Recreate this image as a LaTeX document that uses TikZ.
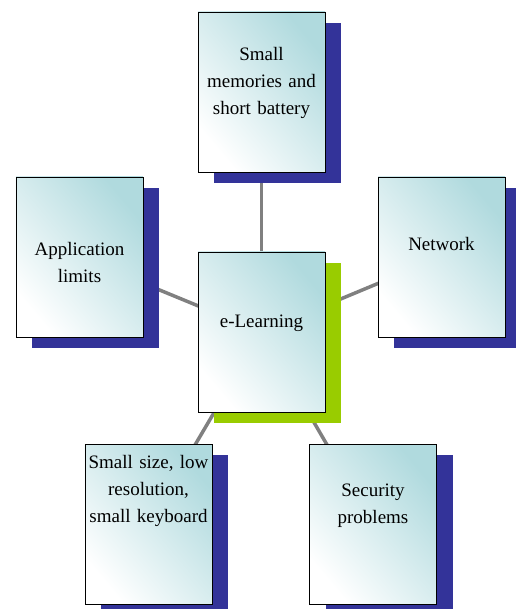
\documentclass[tikz,border=0pt]{standalone}
\usepackage{fontspec}
\setmainfont{Liberation Serif}
\usepackage{tikz}
\usetikzlibrary{shadows, backgrounds}
\definecolor{boxteal}{RGB}{176,218,222}
\definecolor{shadowblue}{RGB}{51,51,153}
\definecolor{shadowgreen}{RGB}{153,204,0}
\definecolor{linegray}{RGB}{128,128,128}
\tikzstyle{box} = [rectangle, draw=black, line width=0.8pt, minimum
    width=127pt, text width=121pt, inner sep=0pt, align=center,
top color=boxteal, bottom color=white, shading angle=-50,
font=\fontsize{19}{27}\selectfont]
\tikzstyle{bluebox} = [box, drop shadow={shadow xshift=16pt,
    shadow yshift=-11pt, fill=shadowblue, opacity=1}]
\tikzstyle{greenbox} = [box, drop shadow={shadow xshift=16pt,
    shadow yshift=-11pt, fill=shadowgreen, opacity=1}]
\tikzstyle{link} = [line width=3.5pt, draw=linegray]

\begin{document}
\begin{tikzpicture}
            \useasboundingbox (-261.5pt,-277pt) rectangle (253.5pt,332pt);
            % Boxes
            \node[greenbox, text height=76pt, text depth=84pt] (el) {e-Learning};
            \node[bluebox, above of=el, node distance=240pt,
            text height=49pt, text depth=111pt]
            (mem) {Small\\memories and\\short battery};
            \node[bluebox, left of=el, node distance=182pt, yshift=75pt,
            text height=79pt, text depth=81pt]
            (app) {Application\\limits};
            \node[bluebox, right of=el, node distance=180pt, yshift=75pt,
            text height=74pt, text depth=86pt]
            (net) {Network};
            \node[bluebox, left of=el, node distance=113pt, yshift=-192pt,
            text height=24pt, text depth=136pt]
            (size) {Small size, low\\resolution,\\small keyboard};
            \node[bluebox, right of=el, node distance=111.5pt, yshift=-192pt,
            text height=52pt, text depth=108pt]
            (sec) {Security\\problems};
            % Lines
            \begin{scope}[on background layer]
            \draw[link] (el.center) -- (mem.center);
            \draw[link] (el.center) -- (app.center);
            \draw[link] (el.center) -- (net.center);
            \draw[link] (el.center) -- (size.center);
            \draw[link] (el.center) -- (sec.center);
            \end{scope}

        \end{tikzpicture}
\end{document}
